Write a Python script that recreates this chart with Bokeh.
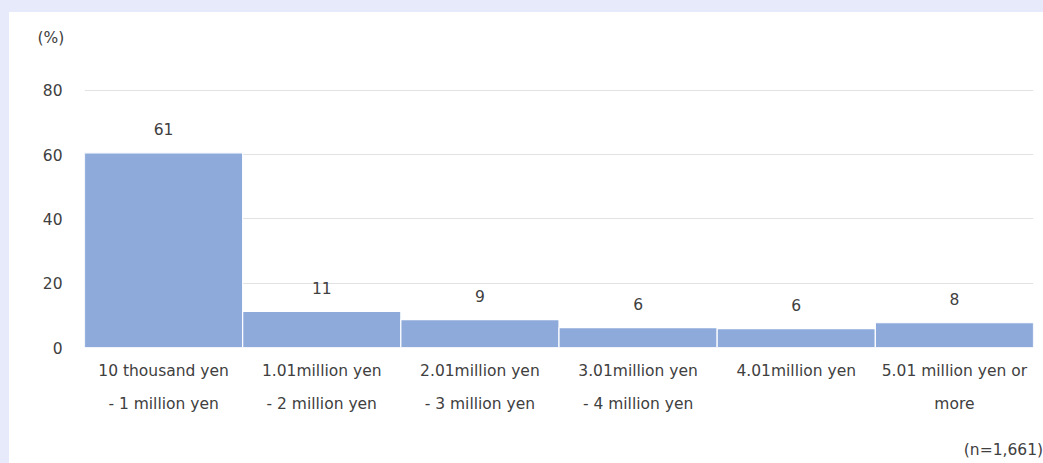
from bokeh.plotting import figure
from bokeh.models import Range1d, FixedTicker, LinearAxis, Title, ColumnDataSource, Spacer
from bokeh.layouts import column, row
from bokeh.core.properties import value
from bokeh.embed import file_html
from bokeh.resources import INLINE

line1 = ["10 thousand yen", "1.01million yen", "2.01million yen", "3.01million yen", "4.01million yen", "5.01 million yen or"]
line2 = ["- 1 million yen", "- 2 million yen", "- 3 million yen", "- 4 million yen", " ", "more"]
values = [60.6, 11.2, 8.7, 6.2, 5.9, 7.7]
labels = ["61", "11", "9", "6", "6", "8"]
y_ticks = [0, 20, 40, 60, 80]
unit_label = "(%)"
n_label = "(n=1,661)"

pos = list(range(len(values)))
N_LABEL_X = 5.31  # horizontal anchor of the sample-size note (x-axis units)

FONT = "DejaVu Sans"
FS = "15.5px"
TXT = "#404040"
LAV = "#E7EAFA"

p = figure(width=1034, height=451, output_backend="svg", toolbar_location=None,
           x_range=Range1d(-0.5, len(values) - 0.5),
           y_range=Range1d(0, 92.45),
           x_axis_location=None,
           min_border_left=75, min_border_right=10, min_border_top=38, min_border_bottom=116)
p.outline_line_color = None
p.background_fill_color = "white"
p.border_fill_color = "white"

p.xgrid.grid_line_color = None
p.ygrid.ticker = FixedTicker(ticks=y_ticks)
p.ygrid.grid_line_color = "#e2e2e2"
p.ygrid.grid_line_width = 1

src = ColumnDataSource(dict(x=pos, top=values, label=labels))
p.vbar(x="x", top="top", width=1.0, source=src, fill_color="#8EAADB", line_color="white", line_width=1.2)
p.text(x="x", y="top", text="label", source=src, text_align="center", text_baseline="bottom",
       y_offset=-18, text_font=value(FONT), text_font_size=FS, text_color=TXT)

yax = p.yaxis[0]
yax.ticker = FixedTicker(ticks=y_ticks)
yax.axis_line_color = None
yax.major_tick_line_color = None
yax.minor_tick_line_color = None
yax.major_tick_out = 0
yax.minor_tick_out = 0
yax.major_label_standoff = 22
yax.major_label_text_font = FONT
yax.major_label_text_font_size = FS
yax.major_label_text_color = TXT

specs = [(pos, line1, 14), (pos, line2, 12), ([N_LABEL_X], [n_label], 25)]
for ticks, lines, st in specs:
    ax = LinearAxis(ticker=FixedTicker(ticks=ticks))
    ax.axis_line_color = None
    ax.major_tick_line_color = None
    ax.minor_tick_line_color = None
    ax.major_tick_out = 0
    ax.major_tick_in = 0
    ax.minor_tick_out = 0
    ax.major_label_standoff = st
    ax.major_label_text_font = FONT
    ax.major_label_text_font_size = FS
    ax.major_label_text_color = TXT
    ax.major_label_overrides = {t: l for t, l in zip(ticks, lines)}
    p.add_layout(ax, "below")

p.add_layout(Title(text=unit_label, align="left", offset=-47, standoff=7,
                   text_font=FONT, text_font_size=FS, text_font_style="normal",
                   text_color=TXT), "above")

page = column(Spacer(width=1043, height=12, styles={"background-color": LAV}),
              row(Spacer(width=9, height=451, styles={"background-color": LAV}), p))

open("out.html", "w").write(file_html(page, INLINE))
